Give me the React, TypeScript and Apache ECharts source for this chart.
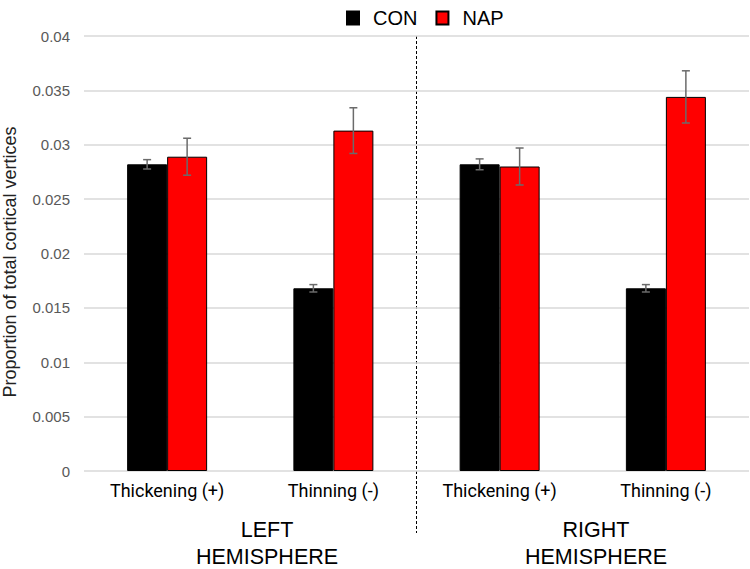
import React, { useEffect, useRef } from "react";
import * as echarts from "echarts";

// Categories and series values (proportion of total cortical vertices)
const categories = ["Thickening (+)", "Thinning (-)", "Thickening (+)", "Thinning (-)"];
const conValues = [0.0282, 0.0168, 0.0282, 0.0168];
const conErrors = [0.00043, 0.00034, 0.0005, 0.00034];
const napValues = [0.0289, 0.0313, 0.028, 0.0344];
const napErrors = [0.0017, 0.0021, 0.0017, 0.0024];
const hemispheres = ["LEFT", "RIGHT"];
const hemisphereWord = "HEMISPHERE";
const yTitle = "Proportion of total cortical vertices";

const BAR_W = 40;

function errorSeries(name: string, values: number[], errors: number[], offset: number) {
  return {
    type: "custom",
    name: name + " err",
    silent: true,
    z: 5,
    data: values.map((v, i) => [i, v, errors[i]]),
    renderItem: (_params: any, api: any) => {
      const i = api.value(0);
      const v = api.value(1);
      const e = api.value(2);
      const hi = api.coord([i, v + e]);
      const lo = api.coord([i, v - e]);
      const x = hi[0] + offset;
      const cap = 4;
      const style = { stroke: "#6b6b6b", lineWidth: 1.5 };
      return {
        type: "group",
        children: [
          { type: "line", shape: { x1: x, y1: hi[1], x2: x, y2: lo[1] }, style },
          { type: "line", shape: { x1: x - cap, y1: hi[1], x2: x + cap, y2: hi[1] }, style },
          { type: "line", shape: { x1: x - cap, y1: lo[1], x2: x + cap, y2: lo[1] }, style },
        ],
      };
    },
  };
}

const font = "Liberation Sans, Arial, sans-serif";

export default function App() {
  const ref = useRef<HTMLDivElement>(null);

  useEffect(() => {
    if (!ref.current) return;
    const chart = echarts.init(ref.current, null, { renderer: "svg" });
    const hemiX = [267, 596];
    chart.setOption({
      animation: false,
      backgroundColor: "#ffffff",
      grid: { left: 84, right: 1, top: 36, bottom: 98 },
      legend: {
        left: 341,
        top: 3,
        icon: "rect",
        itemWidth: 12,
        itemHeight: 13,
        itemGap: 18,
        data: ["CON", "NAP"],
        textStyle: {
          fontSize: 20,
          color: "#000",
          fontFamily: font,
          padding: [0, 0, 0, 9],
        },
      },
      xAxis: {
        type: "category",
        data: categories,
        axisLine: { show: false },
        axisTick: { show: false },
        axisLabel: {
          interval: 0,
          margin: 10,
          fontSize: 18,
          color: "#000",
          fontFamily: "Roboto, sans-serif",
        },
      },
      yAxis: {
        type: "value",
        min: 0,
        max: 0.04,
        interval: 0.005,
        axisLine: { show: false },
        axisTick: { show: false },
        axisLabel: {
          margin: 14,
          fontSize: 15,
          color: "#595959",
          fontFamily: font,
          formatter: (v: number) => String(+v.toFixed(3)),
        },
        splitLine: { lineStyle: { color: "#d9d9d9", width: 1.5 } },
      },
      series: [
        {
          name: "CON",
          type: "bar",
          data: conValues,
          barWidth: BAR_W,
          barGap: "0%",
          itemStyle: { color: "#000000", borderColor: "#000000", borderWidth: 1 },
        },
        {
          name: "NAP",
          type: "bar",
          data: napValues,
          barWidth: BAR_W,
          barGap: "0%",
          itemStyle: { color: "#ff0000", borderColor: "#000000", borderWidth: 1 },
        },
        errorSeries("CON", conValues, conErrors, -BAR_W / 2),
        errorSeries("NAP", napValues, napErrors, BAR_W / 2),
      ],
      graphic: [
        {
          type: "line",
          shape: { x1: 416.5, y1: 36, x2: 416.5, y2: 533 },
          style: { stroke: "#000", lineWidth: 1, lineDash: [3, 2] },
        },
        {
          type: "text",
          x: 10,
          y: 262,
          rotation: Math.PI / 2,
          style: {
            text: yTitle,
            fontSize: 18,
            fill: "#222",
            fontFamily: font,
            align: "center",
            verticalAlign: "middle",
          },
        },
        ...hemispheres.flatMap((t, k) => [
          {
            type: "text",
            x: hemiX[k],
            y: 529.5,
            style: {
              text: t,
              fontSize: 21.5,
              lineHeight: 18,
              fill: "#000",
              fontFamily: font,
              align: "center",
              verticalAlign: "middle",
            },
          },
          {
            type: "text",
            x: hemiX[k],
            y: 556.5,
            style: {
              text: hemisphereWord,
              fontSize: 21.5,
              lineHeight: 18,
              fill: "#000",
              fontFamily: font,
              align: "center",
              verticalAlign: "middle",
            },
          },
        ]),
      ],
    });
    return () => chart.dispose();
  }, []);

  return (
    <div
      ref={ref}
      style={{ position: "absolute", left: 0, top: 0, width: 750, height: 569 }}
    />
  );
}
